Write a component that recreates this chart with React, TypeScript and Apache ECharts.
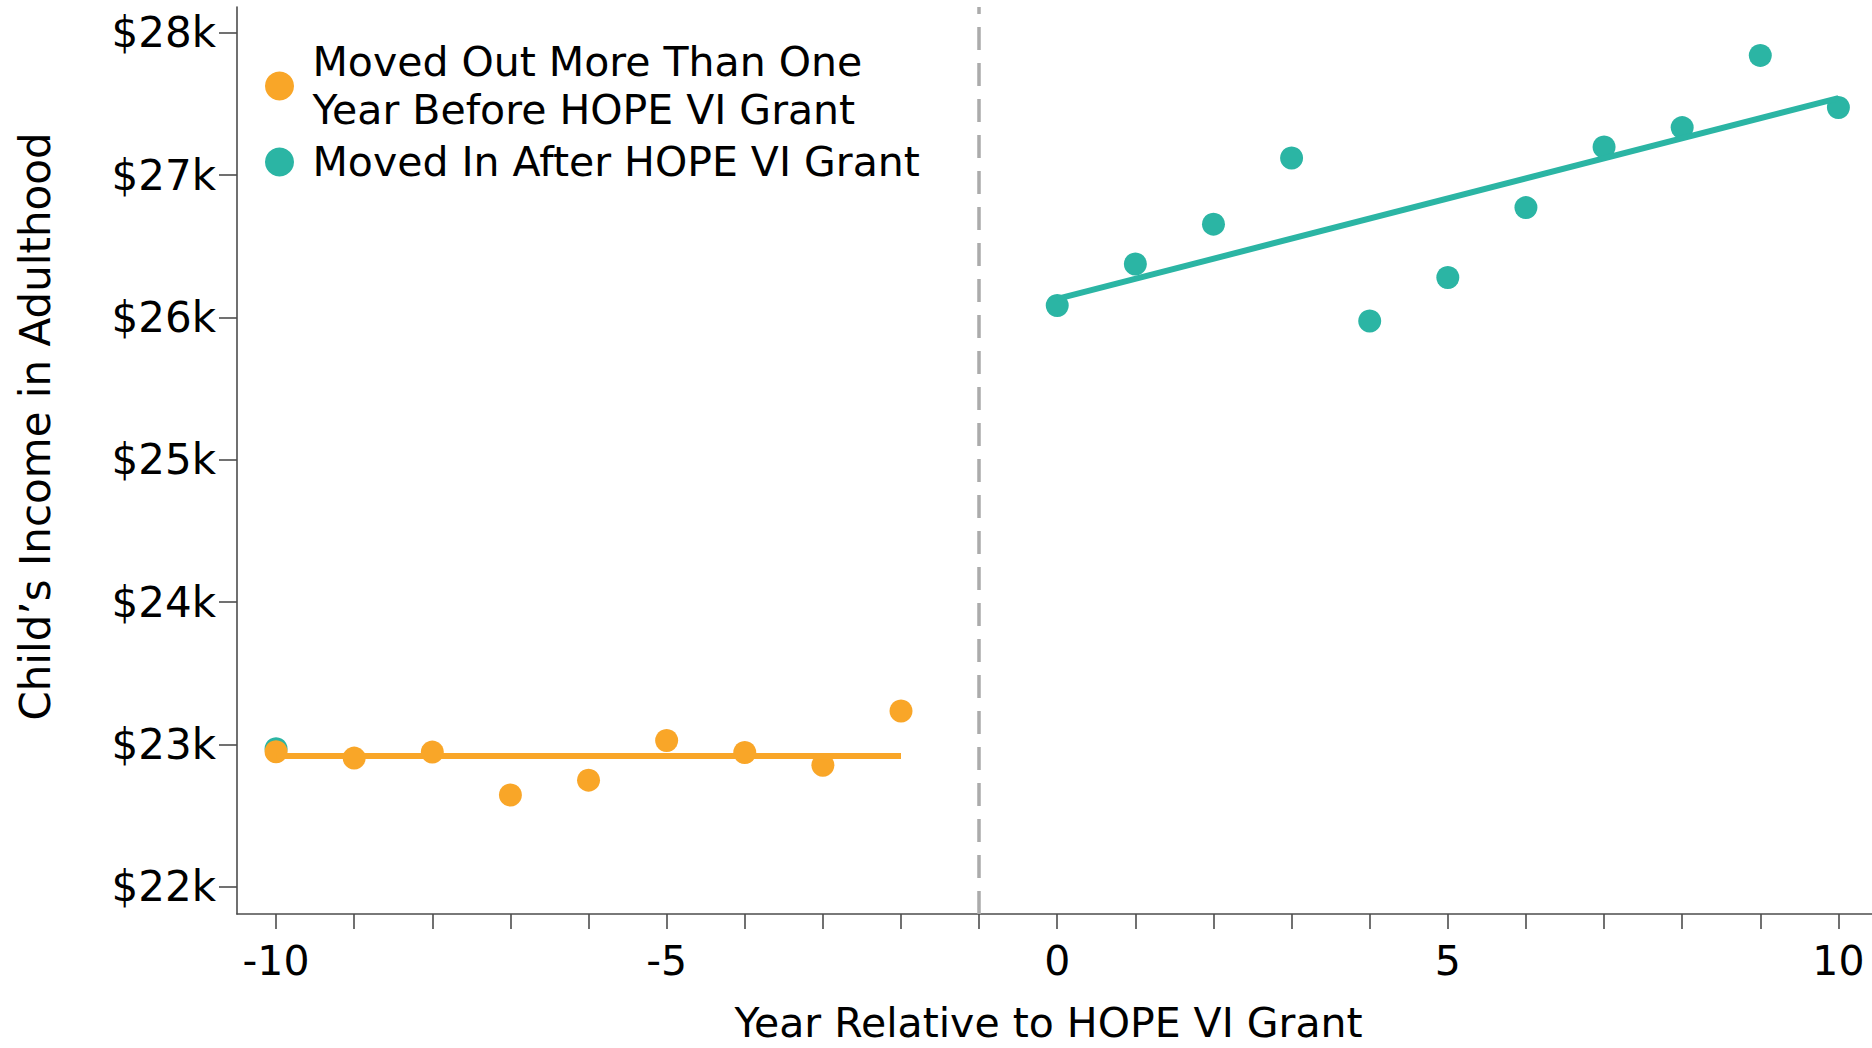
import React, { useEffect, useRef } from "react";
import * as echarts from "echarts";

// ---- data (income in $ thousands) ----
const orangeYears = [-10, -9, -8, -7, -6, -5, -4, -3, -2];
const orangeIncome = [22.95, 22.905, 22.947, 22.646, 22.75, 23.028, 22.944, 22.854, 23.236];
const tealYears = [-10, 0, 1, 2, 3, 4, 5, 6, 7, 8, 9, 10];
const tealIncome = [22.97, 26.083, 26.375, 26.655, 27.12, 25.975, 26.28, 26.771, 27.197, 27.333, 27.84, 27.474];
const orangeFitYears = [-10, -2];
const orangeFitIncome = [22.92, 22.92];
const tealFitYears = [0, 10];
const tealFitIncome = [26.13, 27.54];
const yTickValues = [22, 23, 24, 25, 26, 27, 28];
const xTickValues = [-10, -9, -8, -7, -6, -5, -4, -3, -2, -1, 0, 1, 2, 3, 4, 5, 6, 7, 8, 9, 10];
const xLabelValues = [-10, -5, 0, 5, 10];
const grantYear = -1;

const ORANGE_NAME = "Moved Out More Than One\nYear Before HOPE VI Grant";
const TEAL_NAME = "Moved In After HOPE VI Grant";

const ORANGE = "#f9a628";
const TEAL = "#2bb5a4";
const FONT = "DejaVu Sans";

const zip = (xs: number[], ys: number[]) => xs.map((x, i) => [x, ys[i]]);

export default function App() {
  const ref = useRef<HTMLDivElement>(null);

  useEffect(() => {
    if (!ref.current) return;
    const chart = echarts.init(ref.current, undefined, { renderer: "svg" });
    const axisLineStyle = { color: "#4d4d4d", width: 1.6 };
    chart.setOption({
      animation: false,
      backgroundColor: "#ffffff",
      textStyle: { fontFamily: FONT },
      grid: { left: 237, right: 0, top: 7, bottom: 126, containLabel: false },
      legend: {
        orient: "vertical",
        left: 265,
        top: 38,
        padding: 0,
        itemWidth: 56,
        itemHeight: 29,
        itemGap: 4,
        icon: "circle",
        selectedMode: false,
        data: [ORANGE_NAME, TEAL_NAME],
        textStyle: { fontFamily: FONT, fontSize: 41, color: "#000", lineHeight: 48 },
      },
      xAxis: {
        type: "value",
        min: -10.5,
        max: 10.43,
        name: "Year Relative to HOPE VI Grant",
        nameLocation: "middle",
        nameGap: 88,
        nameTextStyle: { fontFamily: FONT, fontSize: 41, color: "#000", padding: [0, 12, 0, 0] },
        splitLine: { show: false },
        axisLine: { show: true, onZero: false, lineStyle: axisLineStyle },
        axisTick: { show: true, length: 15, lineStyle: axisLineStyle, customValues: xTickValues },
        axisLabel: {
          fontFamily: FONT,
          fontSize: 41,
          color: "#000",
          margin: 26,
          customValues: xLabelValues,
          formatter: (v: number) => `${v}`,
        },
      },
      yAxis: {
        type: "value",
        min: 21.81,
        max: 28.18,
        name: "Child\u2019s Income in Adulthood",
        nameLocation: "middle",
        nameGap: 181,
        nameTextStyle: { fontFamily: FONT, fontSize: 42, color: "#000", padding: [0, 0, 0, 68] },
        splitLine: { show: false },
        axisLine: { show: true, onZero: false, lineStyle: axisLineStyle },
        axisTick: { show: true, length: 18, lineStyle: axisLineStyle, customValues: yTickValues },
        axisLabel: {
          fontFamily: FONT,
          fontSize: 42,
          color: "#000",
          margin: 21,
          customValues: yTickValues,
          formatter: (v: number) => `$${v}k`,
        },
      },
      series: [
        {
          name: TEAL_NAME,
          type: "scatter",
          symbol: "circle",
          symbolSize: 23,
          itemStyle: { color: TEAL, opacity: 1 },
          data: zip(tealYears, tealIncome),
          z: 2,
        },
        {
          name: "Moved In fit",
          type: "line",
          showSymbol: false,
          symbol: "none",
          lineStyle: { color: TEAL, width: 6 },
          data: zip(tealFitYears, tealFitIncome),
          z: 3,
          markLine: {
            silent: true,
            symbol: ["none", "none"],
            label: { show: false },
            lineStyle: { color: "#ababab", type: [23, 13], width: 3.5 },
            data: [{ xAxis: grantYear }],
          },
        },
        {
          name: ORANGE_NAME,
          type: "scatter",
          symbol: "circle",
          symbolSize: 23,
          itemStyle: { color: ORANGE, opacity: 1 },
          data: zip(orangeYears, orangeIncome),
          z: 4,
        },
        {
          name: "Moved Out fit",
          type: "line",
          showSymbol: false,
          symbol: "none",
          lineStyle: { color: ORANGE, width: 6 },
          data: zip(orangeFitYears, orangeFitIncome),
          z: 5,
        },
      ],
    });
    return () => chart.dispose();
  }, []);

  return (
    <div
      ref={ref}
      style={{ position: "absolute", left: 0, top: 0, width: 1872, height: 1048, background: "#fff" }}
    />
  );
}
